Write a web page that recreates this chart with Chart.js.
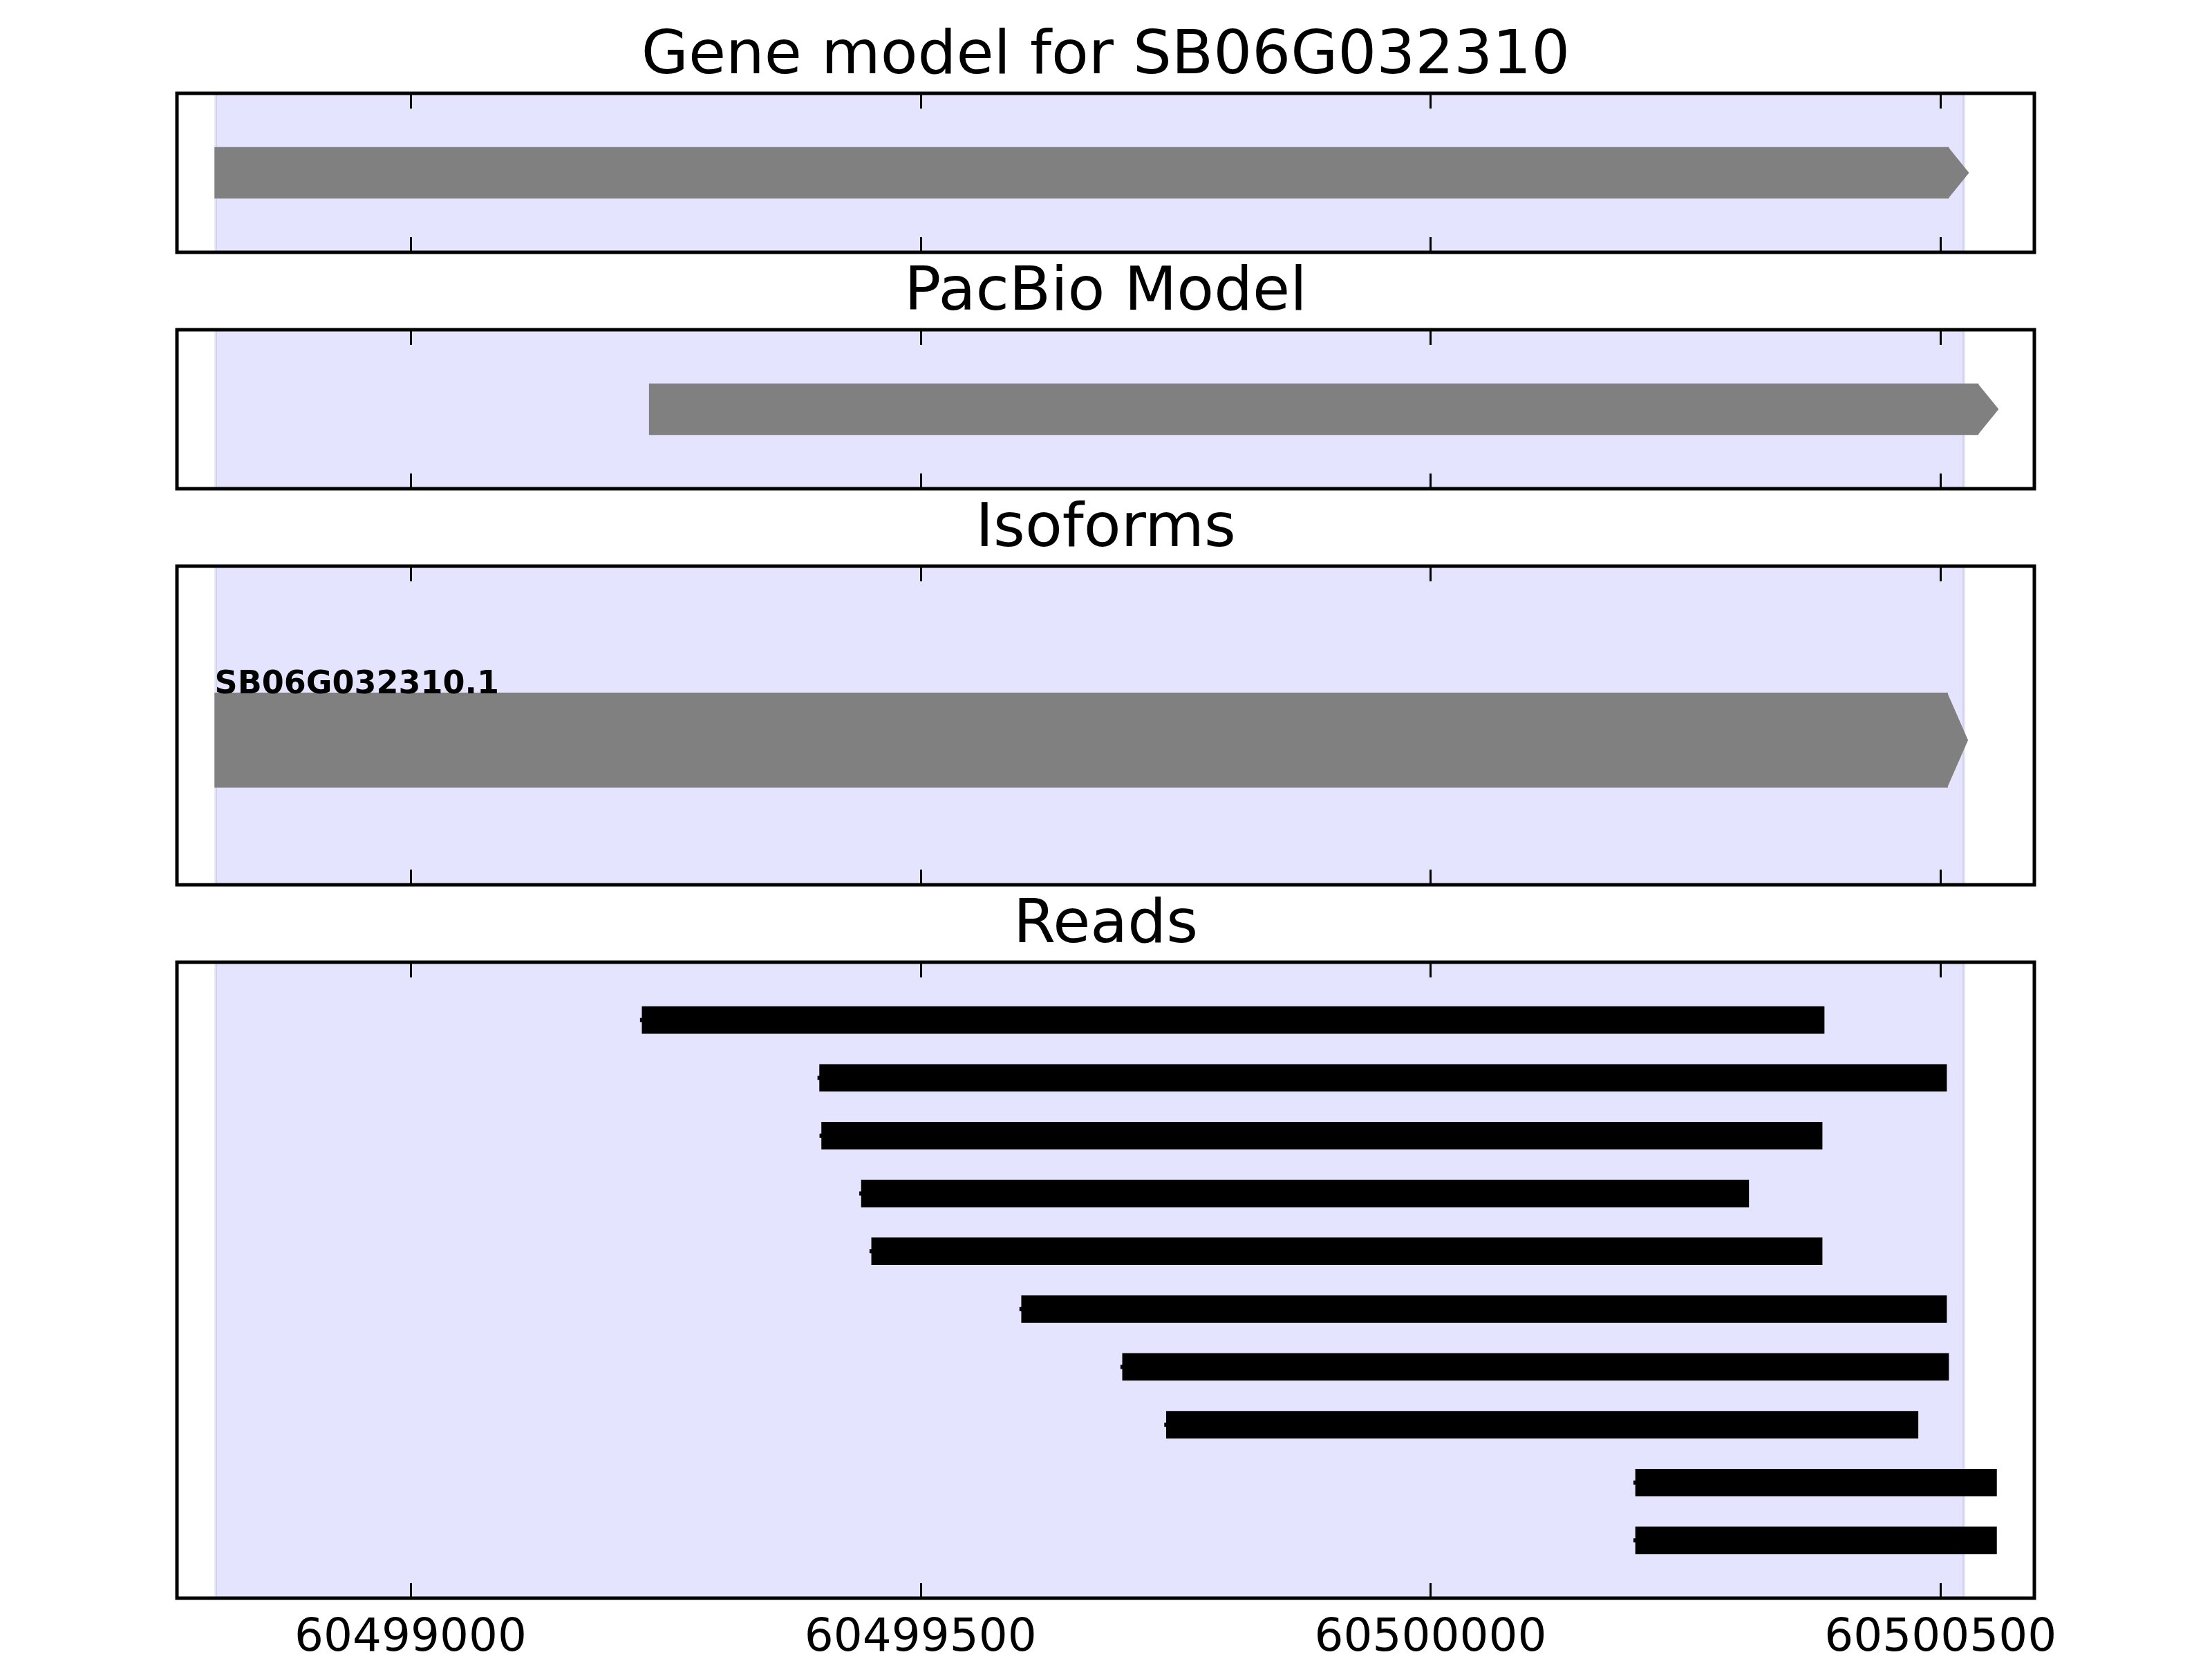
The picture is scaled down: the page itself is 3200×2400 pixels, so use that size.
<!DOCTYPE html>
<html>
<head>
<meta charset="utf-8">
<script src="https://cdn.jsdelivr.net/npm/chart.js@4.4.0/dist/chart.umd.min.js"></script>
<style>
  html, body { margin: 0; padding: 0; background: #ffffff; }
  body { width: 3200px; height: 2400px; position: relative; overflow: hidden; }
  canvas { position: absolute; }
</style>
</head>
<body>
<canvas id="p1"></canvas>
<canvas id="p2"></canvas>
<canvas id="p3"></canvas>
<canvas id="p4"></canvas>
<script>
// ---------------- data ----------------
const xMin = 60498771;
const xMax = 60500592;
const tickValues = [60499000, 60499500, 60500000, 60500500];
const tickLabels = ['60499000', '60499500', '60500000', '60500500'];

const panelTitles = ['Gene model for SB06G032310', 'PacBio Model', 'Isoforms', 'Reads'];

// highlighted gene region
const spanStart = 60498809;
const spanEnd = 60500523;

// gene model (arrow: start .. tip)
const geneStart = [60498808];
const geneTip = [60500528];

// PacBio model
const pacbioStart = [60499234];
const pacbioTip = [60500557];

// isoforms
const isoformNames = ['SB06G032310.1'];
const isoformStart = [60498808];
const isoformTip = [60500527];
const isoformRow = [0.454];

// arrow head length (bp)
const headBp = 20;

// reads (top to bottom)
const readStarts = [60499227, 60499401, 60499403, 60499442, 60499452, 60499599, 60499698, 60499741, 60500201, 60500201];
const readEnds   = [60500386, 60500506, 60500384, 60500312, 60500384, 60500506, 60500508, 60500478, 60500555, 60500555];
const readRows   = [1, 2, 3, 4, 5, 6, 7, 8, 9, 10];

// ---------------- layout ----------------
const PADL = 40, PADR = 60;
const LEFT = 256, RIGHT = 2943;
const TITLE_PT = 5, TITLE_PB = 8, TITLE_FS = 88;
const TITLE_H = TITLE_PT + TITLE_FS + TITLE_PB;
const canvasLeft = LEFT - PADL;
const canvasWidth = (RIGHT - LEFT) + PADL + PADR;
const panels = [
  { id: 'p1', top: 135, h: 230, bottomPad: 10 },
  { id: 'p2', top: 477, h: 230, bottomPad: 10 },
  { id: 'p3', top: 819, h: 461, bottomPad: 10 },
  { id: 'p4', top: 1392, h: 920, bottomPad: 0, axisH: 88 }
];

Chart.defaults.font.family = 'DejaVu Sans';
Chart.defaults.color = '#000';

const trackPlugin = {
  id: 'track',
  beforeDatasetsDraw(chart, args, opts) {
    const ctx = chart.ctx, a = chart.chartArea, x = chart.scales.x;
    const l = x.getPixelForValue(opts.span[0]);
    const r = x.getPixelForValue(opts.span[1]);
    ctx.save();
    ctx.fillStyle = 'rgba(0,0,255,0.105)';
    ctx.fillRect(l, a.top, r - l, a.bottom - a.top);
    ctx.strokeStyle = 'rgba(40,40,120,0.10)';
    ctx.lineWidth = 4;
    ctx.beginPath();
    ctx.moveTo(l, a.top); ctx.lineTo(l, a.bottom);
    ctx.moveTo(r, a.top); ctx.lineTo(r, a.bottom);
    ctx.stroke();
    ctx.restore();
  },
  afterDatasetsDraw(chart, args, opts) {
    const ctx = chart.ctx, a = chart.chartArea, x = chart.scales.x;
    ctx.save();
    const meta = chart.getDatasetMeta(0);
    if (opts.tips) {
      meta.data.forEach((bar, i) => {
        const p = bar.getProps(['x', 'y', 'height'], true);
        const tip = x.getPixelForValue(opts.tips[i]);
        ctx.fillStyle = '#808080';
        ctx.beginPath();
        ctx.moveTo(p.x - 0.5, p.y - p.height / 2);
        ctx.lineTo(tip, p.y);
        ctx.lineTo(p.x - 0.5, p.y + p.height / 2);
        ctx.closePath();
        ctx.fill();
      });
    }
    if (opts.stubs) {
      // small caps at the start of each read
      meta.data.forEach((bar) => {
        const p = bar.getProps(['base', 'y'], true);
        ctx.fillStyle = '#000';
        ctx.fillRect(p.base - 3, p.y - 3, 4, 6);
      });
    }
    if (opts.labels) {
      meta.data.forEach((bar, i) => {
        const p = bar.getProps(['y', 'height'], true);
        ctx.fillStyle = '#000';
        ctx.font = 'bold 46px "DejaVu Sans"';
        ctx.textAlign = 'left';
        ctx.textBaseline = 'alphabetic';
        ctx.fillText(opts.labels[i], x.getPixelForValue(opts.labelStarts[i]), p.y - p.height / 2 + 1);
      });
    }
    // inward ticks, top and bottom
    ctx.strokeStyle = '#000';
    ctx.lineWidth = 3;
    ctx.beginPath();
    opts.ticks.forEach(v => {
      const px = Math.round(x.getPixelForValue(v)) + 0.5;
      ctx.moveTo(px, a.top); ctx.lineTo(px, a.top + 22);
      ctx.moveTo(px, a.bottom); ctx.lineTo(px, a.bottom - 22);
    });
    ctx.stroke();
    // frame
    ctx.lineWidth = 5;
    ctx.strokeRect(a.left, a.top, a.right - a.left, a.bottom - a.top);
    ctx.restore();
  }
};

function makeChart(idx, datasets, yScale, trackOpts, showAxis) {
  const P = panels[idx];
  const cv = document.getElementById(P.id);
  const cTop = P.top - TITLE_H;
  const cH = TITLE_H + P.h + (showAxis ? P.axisH : 0) + P.bottomPad;
  cv.width = canvasWidth; cv.height = cH;
  cv.style.left = canvasLeft + 'px'; cv.style.top = cTop + 'px';
  cv.style.width = canvasWidth + 'px'; cv.style.height = cH + 'px';
  return new Chart(cv, {
    type: 'bar',
    data: { datasets: datasets },
    options: {
      indexAxis: 'y',
      responsive: false,
      animation: false,
      devicePixelRatio: 1,
      layout: { padding: { left: PADL, right: PADR, top: 0, bottom: P.bottomPad } },
      scales: {
        x: {
          type: 'linear',
          min: xMin, max: xMax,
          offset: false,
          display: showAxis,
          grid: { display: false, drawTicks: false },
          border: { display: false },
          afterBuildTicks: (s) => { s.ticks = tickValues.map(v => ({ value: v })); },
          afterFit: (s) => { if (showAxis) s.height = P.axisH; },
          ticks: {
            autoSkip: false, maxRotation: 0, minRotation: 0,
            padding: 19, color: '#000',
            font: { family: 'DejaVu Sans', size: 66 },
            callback: (v, i) => tickLabels[i]
          }
        },
        y: Object.assign({ type: 'linear', display: false, offset: false }, yScale)
      },
      plugins: {
        legend: { display: false },
        tooltip: { enabled: false },
        title: {
          display: true,
          text: panelTitles[idx],
          color: '#000',
          font: { family: 'DejaVu Sans', size: TITLE_FS, weight: 'normal', lineHeight: 1 },
          padding: { top: TITLE_PT, bottom: TITLE_PB }
        },
        track: trackOpts
      }
    },
    plugins: [trackPlugin]
  });
}

// Gene model
makeChart(0, [{
  data: geneStart.map((s, i) => ({ x: [s, geneTip[i] - headBp], y: 0.5 })),
  backgroundColor: '#808080', borderWidth: 0, barThickness: 74
}], { min: 0, max: 1 }, { span: [spanStart, spanEnd], ticks: tickValues, tips: geneTip }, false);

// PacBio model
makeChart(1, [{
  data: pacbioStart.map((s, i) => ({ x: [s, pacbioTip[i] - headBp], y: 0.5 })),
  backgroundColor: '#808080', borderWidth: 0, barThickness: 74
}], { min: 0, max: 1 }, { span: [spanStart, spanEnd], ticks: tickValues, tips: pacbioTip }, false);

// Isoforms
makeChart(2, [{
  data: isoformStart.map((s, i) => ({ x: [s, isoformTip[i] - headBp], y: isoformRow[i] })),
  backgroundColor: '#808080', borderWidth: 0, barThickness: 137
}], { min: 0, max: 1 }, {
  span: [spanStart, spanEnd], ticks: tickValues, tips: isoformTip,
  labels: isoformNames, labelStarts: isoformStart
}, false);

// Reads
makeChart(3, [{
  data: readStarts.map((s, i) => ({ x: [s, readEnds[i]], y: readRows[i] })),
  backgroundColor: '#000000', borderWidth: 0, barThickness: 39
}], { min: 0, max: 11, reverse: true }, { span: [spanStart, spanEnd], ticks: tickValues, stubs: true }, true);
</script>
</body>
</html>
